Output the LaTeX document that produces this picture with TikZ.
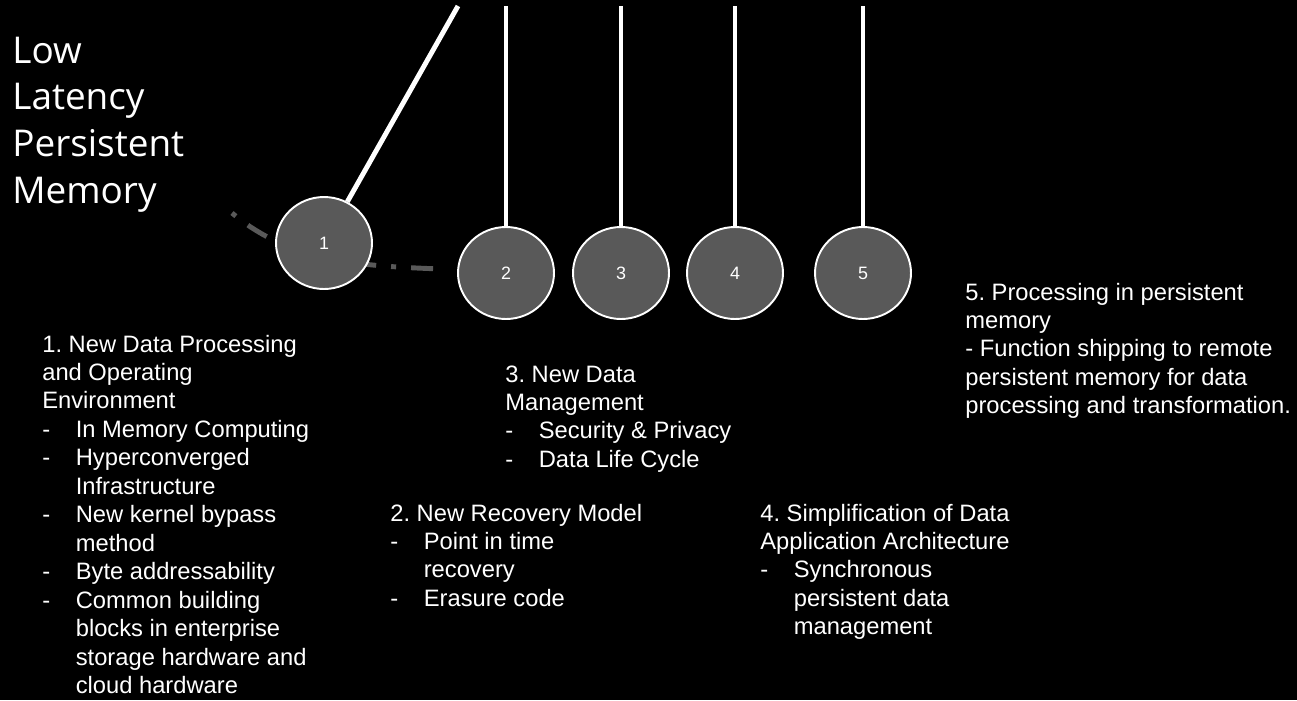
\documentclass[tikz,border=0pt]{standalone}
\usepackage{fontspec}
\setmainfont{Liberation Sans}
\newfontfamily\titlefont{Open Sans}
\usetikzlibrary{shapes.geometric}
\frenchspacing
\definecolor{ballgray}{HTML}{595959}
\newcommand{\itm}{\makebox[0.67cm][l]{-}}
\newcommand{\ind}{\makebox[0.67cm]{}}
\newcommand{\txtblock}[1]{\begin{tabular}[t]{@{}l@{}}#1\end{tabular}}

\begin{document}
\begin{tikzpicture}[x=0.02cm, y=-0.02cm,
  ball/.style={ellipse, draw=white, line width=1.1pt, fill=ballgray,
    minimum width=1.92cm, minimum height=1.84cm, inner sep=0pt, text=white,
    font=\fontsize{10.2pt}{12pt}\selectfont},
  rod/.style={white, line width=2.8pt},
  txt/.style={anchor=base west, inner sep=0pt, text=white,
    font=\fontsize{13.5pt}{16.2pt}\selectfont}]

\fill[black] (0,0) rectangle (1297,700);
\useasboundingbox (0,0) rectangle (1297,700);

\node[anchor=base west, inner sep=0pt, text=white,
  font=\titlefont\fontsize{21pt}{26.7pt}\selectfont] (title) at (12,63)
  {\txtblock{Low\\Latency\\Persistent\\Memory}};

% swing path of the first ball
\coordinate (arcl) at (232,213);
\coordinate (arcr) at (441,269);
\draw[ballgray, line width=2.8pt, dash pattern=on 0.1cm off 0.3cm on 0.44cm off 0.3cm]
  (arcl) .. controls (290,262) and (360,266) .. (arcr);

\coordinate (p1) at (458,6);
\coordinate (p2) at (506,6);
\coordinate (p3) at (621,6);
\coordinate (p4) at (735,6);
\coordinate (p5) at (863,6);

\node[ball] (b1) at (324,243) {1};
\node[ball] (b2) at (506,273) {2};
\node[ball] (b3) at (621,273) {3};
\node[ball] (b4) at (735,273) {4};
\node[ball] (b5) at (863,273) {5};

\foreach \i in {1,...,5}
  \draw[rod] (p\i) -- (b\i);

\node[txt] (t1) at (42,352) {\txtblock{1. New Data Processing\\and Operating\\Environment\\
  \itm In Memory Computing\\\itm Hyperconverged\\\ind Infrastructure\\
  \itm New kernel bypass\\\ind method\\\itm Byte addressability\\
  \itm Common building\\\ind blocks in enterprise\\\ind storage hardware and\\
  \ind cloud hardware}};

\node[txt] (t2) at (390,521) {\txtblock{2. New Recovery Model\\\itm Point in time\\
  \ind recovery\\\itm Erasure code}};

\node[txt] (t3) at (505,382) {\txtblock{3. New Data\\Management\\\itm Security \& Privacy\\
  \itm Data Life Cycle}};

\node[txt] (t4) at (760,521) {\txtblock{4. Simplification of Data\\Application Architecture\\
  \itm Synchronous\\\ind persistent data\\\ind management}};

\node[txt] (t5) at (965,300) {\txtblock{5. Processing in persistent\\memory\\
  - Function shipping to remote\\persistent memory for data\\
  processing and transformation.}};

\end{tikzpicture}
\end{document}
